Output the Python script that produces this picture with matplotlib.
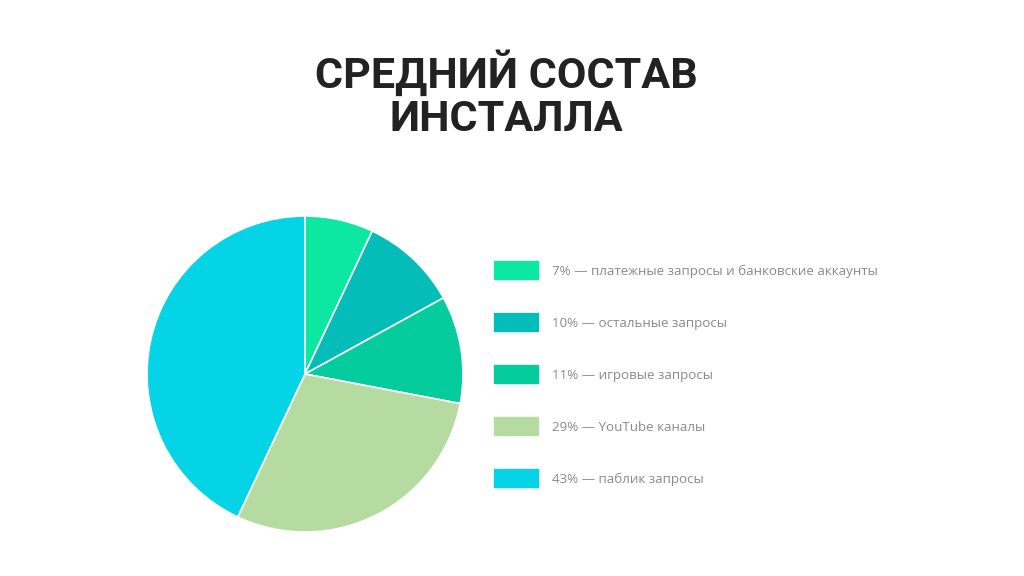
import matplotlib
matplotlib.use("Agg")
import matplotlib.pyplot as plt

title = "СРЕДНИЙ СОСТАВ\nИНСТАЛЛА"
values = [7, 10, 11, 29, 43]
labels = [
    "7% — платежные запросы и банковские аккаунты",
    "10% — остальные запросы",
    "11% — игровые запросы",
    "29% — YouTube каналы",
    "43% — паблик запросы",
]
colors = ["#0ce8a2", "#04bcb8", "#05cc9c", "#b6dba0", "#05d4e6"]

W, H = 1024, 576
fig = plt.figure(figsize=(W / 100, H / 100), dpi=100)
fig.patch.set_facecolor("white")

cx, cy, r = 305, 374, 158
ax = fig.add_axes([(cx - r) / W, (H - cy - r) / H, 2 * r / W, 2 * r / H])
wedges, _ = ax.pie(values, colors=colors, startangle=90, counterclock=False,
                   radius=1, wedgeprops=dict(edgecolor="white", linewidth=1.2))
ax.set_xlim(-1.0, 1.0)
ax.set_ylim(-1.0, 1.0)
ax.set_aspect("equal")
ax.axis("off")

fig.text(506 / W, 1 - 95 / H, title, ha="center", va="center",
         fontsize=31, fontweight="bold", family=["Roboto", "DejaVu Sans"],
         color="#222222", linespacing=1.05)

leg = fig.legend(wedges, labels, loc="upper left",
                 bbox_to_anchor=(493 / W, 1 - 260 / H),
                 frameon=False, borderpad=0, borderaxespad=0,
                 handlelength=3.55, handleheight=2.0, handletextpad=0.9,
                 labelspacing=2.36,
                 prop=dict(family=["Open Sans", "DejaVu Sans"], size=9.6))
for t in leg.get_texts():
    t.set_color("#8a8a8a")

fig.savefig("out.png", dpi=100, facecolor="white")
